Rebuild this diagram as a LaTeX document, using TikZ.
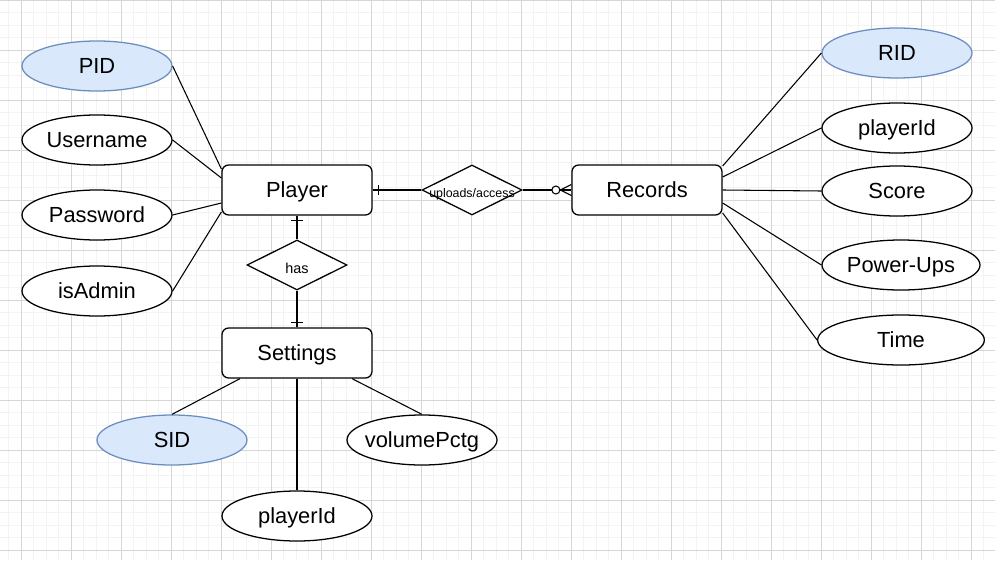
\documentclass[tikz,border=0pt]{standalone}
\usepackage{fontspec}
\setmainfont{Liberation Sans}
\usetikzlibrary{shapes.geometric,calc}
\definecolor{keyfill}{HTML}{DAE8FC}
\definecolor{keydraw}{HTML}{6C8EBF}
\definecolor{gridmajor}{HTML}{D6D6D6}
\definecolor{gridminor}{HTML}{F3F3F3}
\tikzset{
  bigtext/.style={font=\fontsize{16.4}{19}\selectfont, text height=11.7pt, text depth=0pt},
  entity/.style={draw, rounded corners=5pt, minimum width=112.5pt, minimum height=37.5pt,
    line width=0.95pt, fill=white, inner sep=0pt, bigtext},
  attr/.style={ellipse, draw, minimum width=112.5pt, minimum height=37.5pt, inner sep=0pt,
    line width=0.95pt, fill=white, bigtext},
  keyattr/.style={attr, fill=keyfill, draw=keydraw},
  rel/.style={diamond, draw, minimum width=75pt, minimum height=37.5pt, inner sep=0pt,
    line width=0.95pt, fill=white},
  rellabel/.style={inner sep=0pt},
  link/.style={line width=0.8pt},
}
\begin{document}
\begin{tikzpicture}[x=0.75pt,y=-0.75pt]
\useasboundingbox (0,0) rectangle (995,560);
\fill[white] (0,0) rectangle (995,560);
\begin{scope}
\clip (0,0) rectangle (995,560);
\foreach \xx in {-3.7,8.8,...,1000} \draw[gridminor,line width=1pt] (\xx,0) -- (\xx,560);
\foreach \yy in {0.3,12.8,...,570} \draw[gridminor,line width=1pt] (0,\yy) -- (995,\yy);
\foreach \xx in {21.3,71.3,...,1000} \draw[gridmajor,line width=0.75pt] (\xx,0) -- (\xx,560);
\foreach \yy in {0.3,50.3,...,570} \draw[gridmajor,line width=0.75pt] (0,\yy) -- (995,\yy);
\end{scope}

% entities
\node[entity] (player) at (297,190) {Player};
\node[entity] (rec) at (647,190) {Records};
\node[entity] (settings) at (297,353) {Settings};

% relationships
\node[rel] (ua) at (472,190) {};
\node[rellabel, font=\fontsize{9.3}{11}\selectfont] (ualbl) at (472,194) {uploads/access};
\node[rel] (has) at (297,265) {};
\node[rellabel, font=\fontsize{10.8}{13}\selectfont] (haslbl) at (297,268) {has};

% player attributes
\node[keyattr] (pid) at (97,66) {PID};
\node[attr] (user) at (97,140) {Username};
\node[attr] (pass) at (97,215) {Password};
\node[attr] (admin) at (97,291) {isAdmin};

% records attributes
\node[keyattr] (rid) at (897,53) {RID};
\node[attr] (rpid) at (897,128) {playerId};
\node[attr] (score) at (897,191) {Score};
\node[attr, minimum width=118.5pt] (pups) at (901,265) {Power-Ups};
\node[attr, minimum width=125pt] (time) at (901,340) {Time};

% settings attributes
\node[keyattr] (sid) at (172,440) {SID};
\node[attr, inner xsep=-3.6pt] (vol) at (422,440) {volumePctg};
\node[attr] (spid) at (297,516) {playerId};

% attribute links
\draw[link] (pid.east) -- ($(player.west)+(0,-21)$);
\draw[link] (user.east) -- ($(player.west)+(0,-12)$);
\draw[link] (pass.east) -- ($(player.west)+(0,13)$);
\draw[link] (admin.east) -- ($(player.west)+(0,22)$);

\draw[link] ($(rec.east)+(0,-24)$) -- (rid.west);
\draw[link] ($(rec.east)+(0,-13)$) -- (rpid.west);
\draw[link] (rec.east) -- (score.west);
\draw[link] ($(rec.east)+(0,13)$) -- (pups.west);
\draw[link] ($(rec.east)+(0,23)$) -- (time.west);

\draw[link] ($(settings.south)+(-57,0)$) -- (sid.north);
\draw[link] ($(settings.south)+(55,0)$) -- (vol.north);
\draw[link] (settings.south) -- (spid.north);

% relationship links
\draw[link] (player.east) -- (ua.west);
\draw[link] ($(player.east)+(5.5,-5)$) -- ($(player.east)+(5.5,5)$);
\draw[link] (ua.east) -- (rec.west);
\draw[link] ($(rec.west)+(-11,0)$) -- ($(rec.west)+(0,-5.5)$);
\draw[link] ($(rec.west)+(-11,0)$) -- ($(rec.west)+(0,5.5)$);
\draw[link, fill=white] ($(rec.west)+(-15.5,0)$) circle[radius=3pt];

\draw[link] (player.south) -- (has.north);
\draw[link] ($(player.south)+(-6,5)$) -- ($(player.south)+(6,5)$);
\draw[link] (has.south) -- (settings.north);
\draw[link] ($(settings.north)+(-6,-5)$) -- ($(settings.north)+(6,-5)$);
\end{tikzpicture}
\end{document}
